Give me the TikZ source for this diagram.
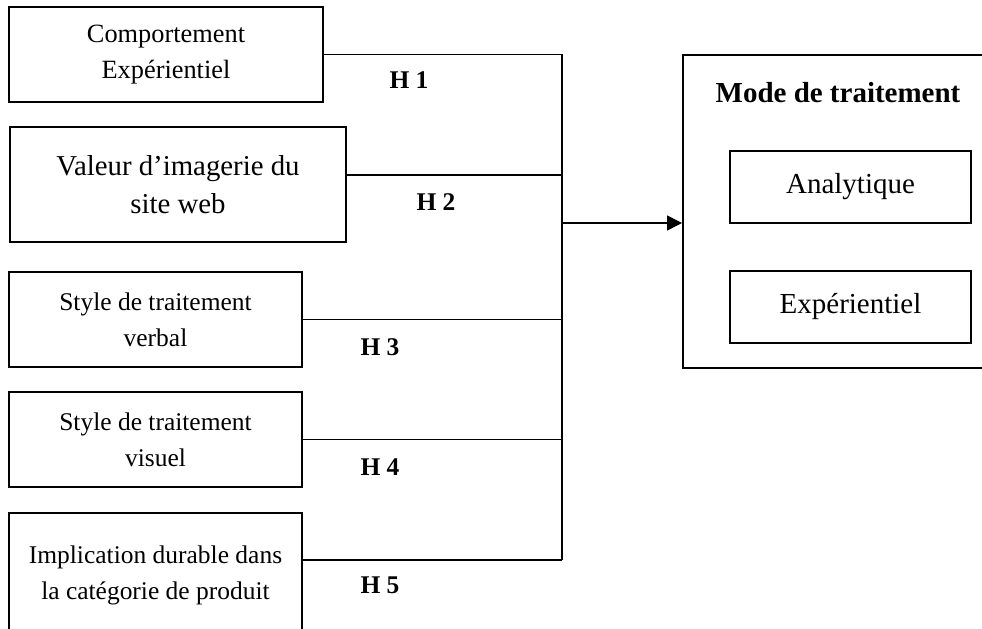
\documentclass[tikz,border=0pt]{standalone}
\usepackage{fontspec}
\setmainfont{Liberation Serif}
\usetikzlibrary{arrows.meta,positioning,calc}

\begin{document}
\begin{tikzpicture}[x=0.02cm,y=0.02cm,line width=0.9pt,
    varbox/.style={draw,align=center,inner sep=0pt,font=\fontsize{14.5}{20.5}\selectfont},
    resbox/.style={draw,align=center,inner sep=0pt,minimum width=241*0.02cm,minimum height=72*0.02cm,font=\fontsize{16.5}{20}\selectfont},
    hlabel/.style={font=\fontsize{14.5}{17}\selectfont\bfseries}]
  \useasboundingbox (0,0) rectangle (982,-628); % 図全体の範囲
  \node[varbox,minimum width=314*0.02cm,minimum height=95*0.02cm,font=\fontsize{15}{20.5}\selectfont] (c1) at (166,-54.5) {Comportement\\Expérientiel}; % 1つ目の変数
  \node[varbox,minimum width=336*0.02cm,minimum height=115*0.02cm,font=\fontsize{16.4}{21.5}\selectfont] (c2) at (178,-184.5) {Valeur d’imagerie du\\site web}; % 2つ目の変数
  \node[varbox,minimum width=293*0.02cm,minimum height=95*0.02cm] (c3) at (155.5,-319.5) {Style de traitement\\verbal}; % 3つ目の変数
  \node[varbox,minimum width=293*0.02cm,minimum height=95*0.02cm] (c4) at (155.5,-439.5) {Style de traitement\\visuel}; % 4つ目の変数
  \node[varbox,minimum width=293*0.02cm,minimum height=125*0.02cm,anchor=north] (c5) at (155.5,-512) {Implication durable dans\\la catégorie de produit}; % 5つ目の変数（下端は図の外）
  \node[draw,minimum width=330*0.02cm,minimum height=313*0.02cm,anchor=north west,inner sep=0pt] (mode) at (682,-54) {}; % 右側の大きな枠（右端は図の外）
  \node[font=\fontsize{16.5}{20}\selectfont\bfseries] (title) at (838,-93) {Mode de traitement}; % 右枠の見出し
  \node[resbox] (ana) at (850.5,-187) {Analytique}; % 分析的モード
  \node[resbox] (exp) at (850.5,-307) {Expérientiel}; % 経験的モード
  \coordinate (junc) at (562,-223); % 縦線と矢印の分岐点
  \coordinate (h2) at ([shift={(0,9.5)}]c2.east); % 2つ目の線の出発点
  \coordinate (h5) at ([shift={(0,15.5)}]c5.east); % 5つ目の線の出発点
  \draw (c1.east) -- (c1.east -| junc); % H1 の線
  \draw (h2) -- (h2 -| junc); % H2 の線
  \draw (c3.east) -- (c3.east -| junc); % H3 の線
  \draw (c4.east) -- (c4.east -| junc); % H4 の線
  \draw (h5) -- (h5 -| junc); % H5 の線
  \draw (c1.east -| junc) -- (h5 -| junc); % 線をまとめる縦線
  \draw[-{Triangle[length=0.3cm,width=0.3cm]}] (junc) -- (junc -| mode.west); % 右枠への矢印
  \node[hlabel] (l1) at (409,-80) {H 1}; % 仮説1
  \node[hlabel] (l2) at (436,-202) {H 2}; % 仮説2
  \node[hlabel] (l3) at (380,-347) {H 3}; % 仮説3
  \node[hlabel] (l4) at (380,-467) {H 4}; % 仮説4
  \node[hlabel] (l5) at (380,-585) {H 5}; % 仮説5
\end{tikzpicture}
\end{document}
